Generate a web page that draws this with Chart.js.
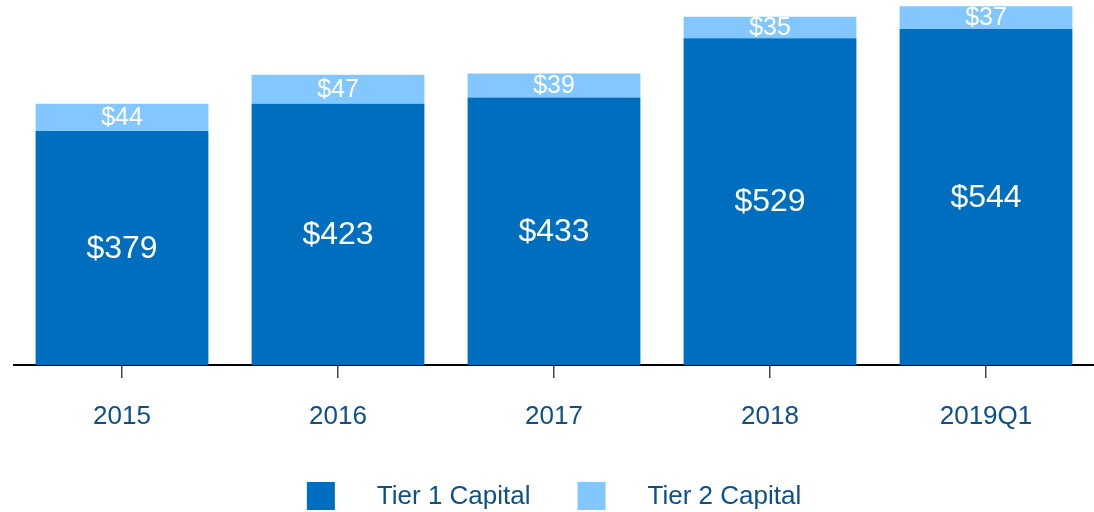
<!DOCTYPE html>
<html>
<head>
<meta charset="utf-8">
<script src="https://cdn.jsdelivr.net/npm/chart.js@4/dist/chart.umd.min.js"></script>
<style>
  html, body { margin: 0; padding: 0; background: #fff; }
  #wrap { width: 1094px; height: 512px; }
</style>
</head>
<body>
<div id="wrap"><canvas id="capital-chart"></canvas></div>
<script>
const years = ['2015', '2016', '2017', '2018', '2019Q1'];
const tier1 = [379, 423, 433, 529, 544];
const tier2 = [44, 47, 39, 35, 37];

const tier1Color = '#006EBF';
const tier2Color = '#82C7FF';
const textBlue = '#0D4F8B';
const fontFamily = '"Liberation Sans", Arial, sans-serif';

// white value labels centred in every bar segment
const barLabels = {
    id: 'barLabels',
    afterDatasetsDraw(chart) {
        const ctx = chart.ctx;
        ctx.save();
        ctx.fillStyle = '#fff';
        ctx.textAlign = 'center';
        ctx.textBaseline = 'middle';
        chart.data.datasets.forEach((ds, i) => {
            const meta = chart.getDatasetMeta(i);
            ctx.font = (i === 0 ? 32 : 25) + 'px ' + fontFamily;
            meta.data.forEach((bar, j) => {
                const mid = (bar.y + bar.base) / 2;
                ctx.fillText('$' + ds.data[j], bar.x, mid + 1);
            });
        });
        ctx.restore();
    }
};

// legend with wide gap between box and text
const bottomLegend = {
    id: 'bottomLegend',
    afterDraw(chart) {
        const ctx = chart.ctx;
        const area = chart.chartArea;
        ctx.save();
        ctx.font = '26px ' + fontFamily;
        const items = chart.data.datasets.map(ds => ({
            label: ds.label, color: ds.backgroundColor, w: ctx.measureText(ds.label).width
        }));
        const box = 28, gapText = 42, gapItem = 47;
        let total = 0;
        items.forEach((it, i) => { total += box + gapText + it.w + (i > 0 ? gapItem : 0); });
        let x = (area.left + area.right) / 2 - total / 2;
        const top = 482;
        ctx.textBaseline = 'middle';
        ctx.textAlign = 'left';
        items.forEach((it, i) => {
            if (i > 0) x += gapItem;
            ctx.fillStyle = it.color;
            ctx.fillRect(x, top, box, box);
            x += box + gapText;
            ctx.fillStyle = textBlue;
            ctx.fillText(it.label, x, top + box / 2 + 1);
            x += it.w;
        });
        ctx.restore();
    }
};

new Chart(document.getElementById('capital-chart'), {
    type: 'bar',
    data: {
        labels: years,
        datasets: [
            { label: 'Tier 1 Capital', data: tier1, backgroundColor: tier1Color },
            { label: 'Tier 2 Capital', data: tier2, backgroundColor: tier2Color }
        ]
    },
    options: {
        responsive: true,
        maintainAspectRatio: false,
        animation: false,
        categoryPercentage: 0.8,
        barPercentage: 1,
        layout: { padding: { left: 14, right: 0, top: 0, bottom: 0 } },
        plugins: {
            legend: { display: false },
            tooltip: { enabled: false }
        },
        scales: {
            x: {
                stacked: true,
                afterFit(scale) { scale.height = 147; },
                grid: {
                    offset: false,
                    drawOnChartArea: false,
                    drawTicks: true,
                    tickLength: 13,
                    color: '#444',
                    lineWidth: 1.5
                },
                border: { display: true, color: '#000', width: 2 },
                ticks: {
                    color: textBlue,
                    padding: 23,
                    font: { family: fontFamily, size: 26 }
                }
            },
            y: {
                stacked: true,
                display: false,
                min: 0,
                max: 591
            }
        }
    },
    plugins: [barLabels, bottomLegend]
});
</script>
</body>
</html>
